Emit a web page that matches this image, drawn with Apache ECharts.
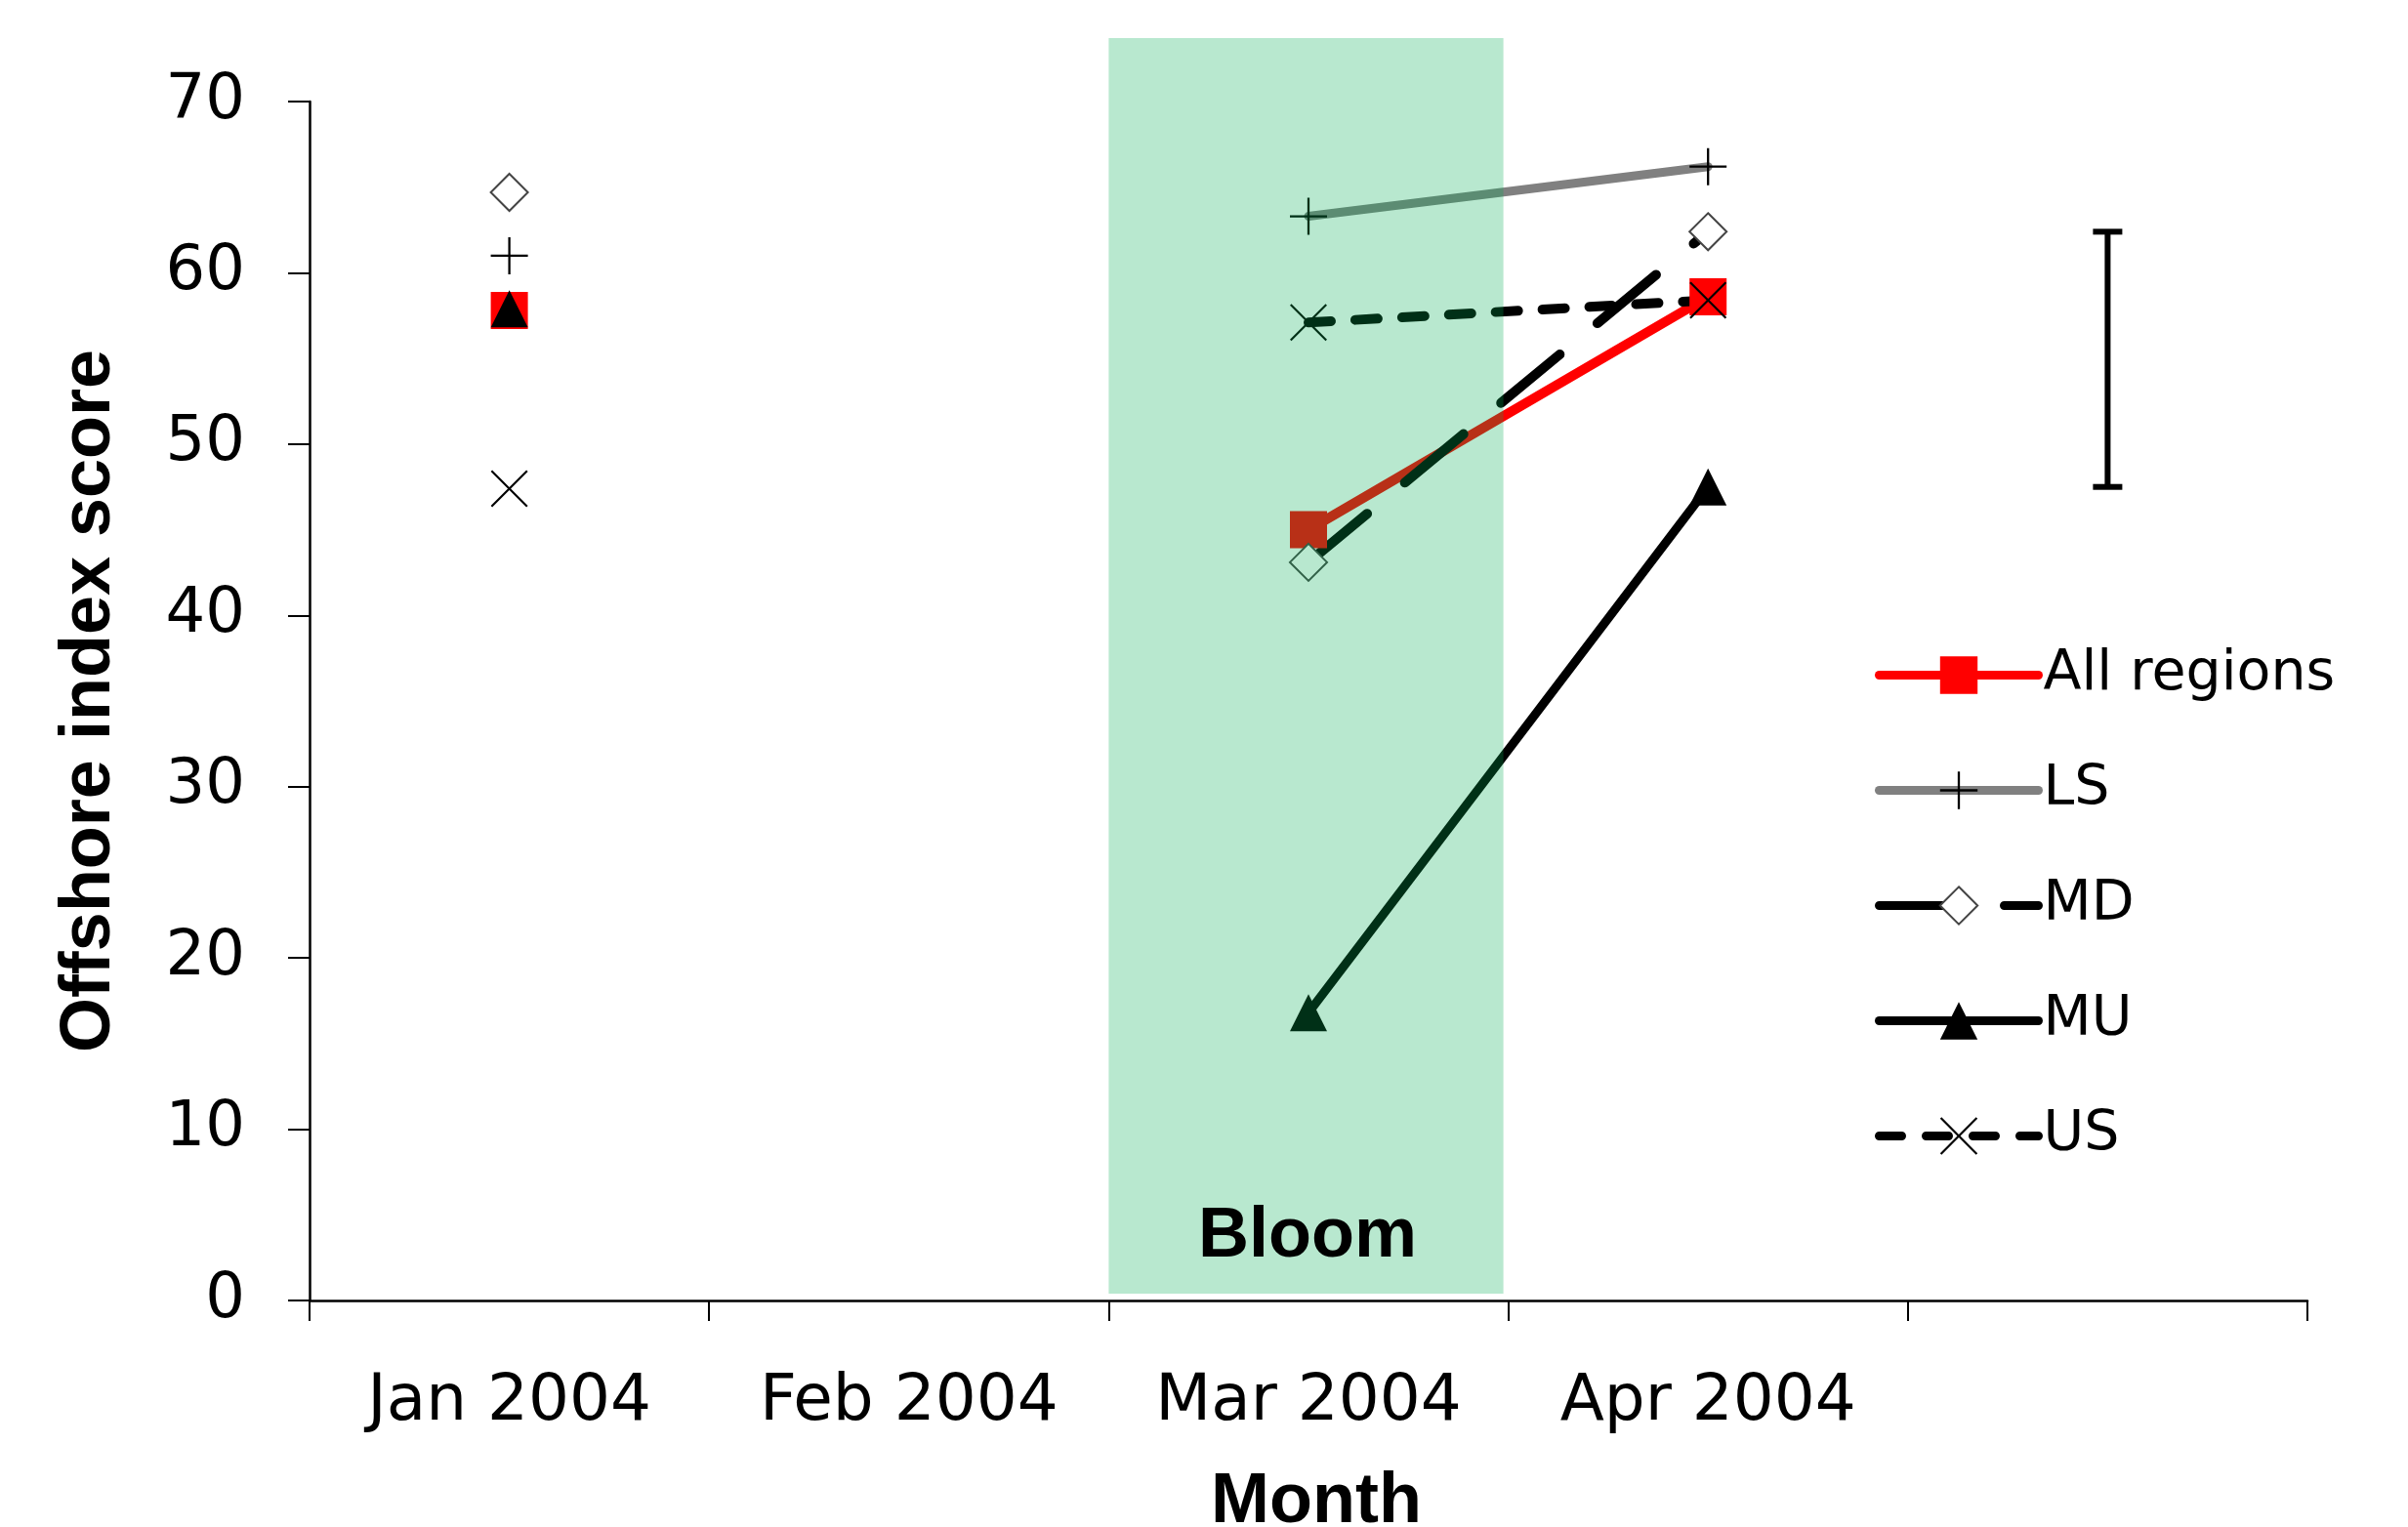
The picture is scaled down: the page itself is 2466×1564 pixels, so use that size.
<!DOCTYPE html>
<html>
<head>
<meta charset="utf-8">
<title>Offshore index score</title>
<script src="https://cdn.jsdelivr.net/npm/echarts/dist/echarts.min.js"></script>
<style>
  html, body { margin: 0; padding: 0; background: #fff; }
  #chart { width: 2466px; height: 1564px; }
</style>
</head>
<body>
<div id="chart"></div>
<script>
// data
const months = ["Jan 2004", "Feb 2004", "Mar 2004", "Apr 2004", ""];
const allRegions = [57.8, null, 45.0, 58.6, null];
const lsScores = [61.0, null, 63.3, 66.2, null];
const mdScores = [64.7, null, 43.1, 62.4, null];
const muScores = [57.9, null, 16.8, 47.5, null];
const usScores = [47.4, null, 57.1, 58.4, null];
const yTicks = [0, 10, 20, 30, 40, 50, 60, 70];
// bloom period: month, low, high
const bloomSpan = ["Mar 2004", 0.4, 73.7];
// error bar in the blank 5th column: index, low, high
const errorBar = [4, 47.5, 62.4];

const plusPath = "path://M9.4,0h1.2v9.4h9.4v1.2h-9.4v9.4h-1.2v-9.4h-9.4v-1.2h9.4z";
const crossPath = "path://M0,0.8L0.8,0L10,9.2L19.2,0L20,0.8L10.8,10L20,19.2L19.2,20L10,10.8L0.8,20L0,19.2L9.2,10z";

const labelFont = "DejaVu Sans";
const titleFont = "Liberation Sans";

const chart = echarts.init(document.getElementById("chart"));

function lineSeries(name, data, lineStyle, symbol, itemStyle) {
  return {
    name: name,
    type: "line",
    data: data,
    connectNulls: false,
    symbol: symbol,
    symbolSize: 38,
    showSymbol: true,
    lineStyle: Object.assign({ cap: "round", join: "round" }, lineStyle),
    itemStyle: itemStyle,
    emphasis: { disabled: true },
    z: 2,
  };
}

const option = {
  animation: false,
  backgroundColor: "#fff",
  grid: { left: 317, right: 103, top: 104, bottom: 232, containLabel: false, outerBoundsMode: "none" },
  legend: {
    orient: "vertical",
    left: 1915,
    top: 658,
    itemWidth: 163,
    itemHeight: 48,
    itemGap: 61,
    data: ["All regions", "LS", "MD", "MU", "US"],
    lineStyle: { width: 9 },
    textStyle: { fontFamily: labelFont, fontSize: 57, color: "#000" },
  },
  xAxis: {
    type: "category",
    data: months,
    boundaryGap: true,
    name: "Month",
    nameLocation: "middle",
    nameGap: 171,
    nameTextStyle: {
      fontFamily: titleFont, fontWeight: "bold", fontSize: 72, color: "#000",
      padding: [0, 0, 0, 16],
    },
    axisLine: { show: true, lineStyle: { color: "#000", width: 2.5 } },
    axisTick: { show: true, inside: false, length: 21, lineStyle: { color: "#000", width: 2 } },
    axisLabel: { fontFamily: labelFont, fontSize: 66, color: "#000", margin: 72, interval: 0 },
    splitLine: { show: false },
  },
  yAxis: {
    type: "value",
    min: yTicks[0],
    max: yTicks[yTicks.length - 1],
    interval: 10,
    name: "Offshore index score",
    nameLocation: "middle",
    nameGap: 189,
    nameTextStyle: { fontFamily: titleFont, fontWeight: "bold", fontSize: 72, color: "#000" },
    axisLine: { show: true, lineStyle: { color: "#000", width: 2.5 } },
    axisTick: { show: true, inside: false, length: 22, lineStyle: { color: "#000", width: 2 } },
    axisLabel: { fontFamily: labelFont, fontSize: 64, color: "#000", margin: 66 },
    splitLine: { show: false },
  },
  series: [
    lineSeries("All regions", allRegions, { color: "#ff0000", width: 10 }, "rect",
      { color: "#ff0000" }),
    lineSeries("LS", lsScores, { color: "#808080", width: 9 }, plusPath,
      { color: "#000" }),
    lineSeries("MD", mdScores, { color: "#000", width: 10, type: [78, 50] }, "diamond",
      { color: "#fff", borderColor: "#444", borderWidth: 2 }),
    lineSeries("MU", muScores, { color: "#000", width: 9 }, "triangle",
      { color: "#000" }),
    lineSeries("US", usScores, { color: "#000", width: 10, type: [23, 25] }, crossPath,
      { color: "#000" }),
    {
      // translucent bloom band, drawn over the lines like the original
      type: "custom",
      clip: false,
      z: 5,
      silent: true,
      data: [bloomSpan],
      encode: { x: 0, y: [1, 2] },
      renderItem: function (params, api) {
        const lo = api.coord([api.value(0), api.value(1)]);
        const hi = api.coord([api.value(0), api.value(2)]);
        const w = api.size([1, 0])[0];
        return {
          type: "group",
          children: [
            {
              type: "rect",
              shape: { x: lo[0] - w / 2, y: hi[1], width: w - 5, height: lo[1] - hi[1] },
              style: { fill: "rgba(0,173,84,0.28)" },
            },
            {
              type: "text",
              x: lo[0] - 1,
              y: lo[1] - 58,
              style: {
                text: "Bloom",
                font: "bold 72px '" + titleFont + "'",
                fill: "#000",
                align: "center",
                verticalAlign: "middle",
              },
            },
          ],
        };
      },
    },
    {
      // error bar on the right
      type: "custom",
      clip: false,
      z: 3,
      silent: true,
      data: [errorBar],
      encode: { x: 0, y: [1, 2] },
      renderItem: function (params, api) {
        const lo = api.coord([api.value(0), api.value(1)]);
        const hi = api.coord([api.value(0), api.value(2)]);
        const x = lo[0];
        const st = { stroke: "#000", lineWidth: 6 };
        return {
          type: "group",
          children: [
            { type: "line", shape: { x1: x, y1: lo[1], x2: x, y2: hi[1] }, style: st },
            { type: "line", shape: { x1: x - 15, y1: lo[1], x2: x + 15, y2: lo[1] }, style: st },
            { type: "line", shape: { x1: x - 15, y1: hi[1], x2: x + 15, y2: hi[1] }, style: st },
          ],
        };
      },
    },
  ],
};

chart.setOption(option);
</script>
</body>
</html>
